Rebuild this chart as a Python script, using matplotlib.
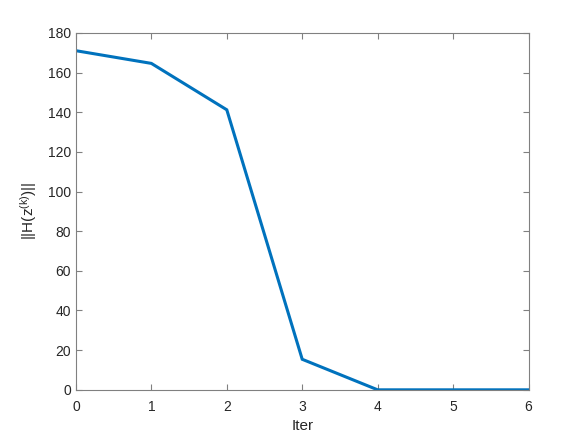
import matplotlib
matplotlib.use('Agg')
import matplotlib.pyplot as plt

iters = [0, 1, 2, 3, 4, 5, 6]
h_norm = [171.0, 164.6, 141.2, 15.4, 0.0, 0.0, 0.0]

plt.rcParams['font.family'] = ['Liberation Sans', 'DejaVu Sans']
plt.rcParams['mathtext.fontset'] = 'custom'
plt.rcParams['mathtext.rm'] = 'Liberation Sans'
plt.rcParams['mathtext.it'] = 'Liberation Sans'

fig = plt.figure(figsize=(5.84, 4.38), dpi=100)
ax = fig.add_axes([0.13, 0.11, 0.775, 0.815])
ax.plot(iters, h_norm, color='#0072BD', linewidth=2.2, solid_joinstyle='miter')

ax.set_xlim(0, 6)
ax.set_ylim(0, 180)
ax.set_xticks(range(0, 7))
ax.set_yticks(range(0, 181, 20))

axis_gray = '#808080'
for s in ax.spines.values():
    s.set_color(axis_gray)
    s.set_linewidth(0.8)
ax.tick_params(direction='in', top=True, right=True, length=4, width=0.8,
               colors=axis_gray, labelcolor='#262626', labelsize=10)
ax.tick_params(axis='x', pad=7)

ax.set_xlabel('Iter', fontsize=11, color='#262626', labelpad=4)
ax.set_ylabel(r'$\mathrm{||H(z^{(k)})||}$', fontsize=11, color='#262626', labelpad=6)

fig.savefig('out.png', dpi=100)
